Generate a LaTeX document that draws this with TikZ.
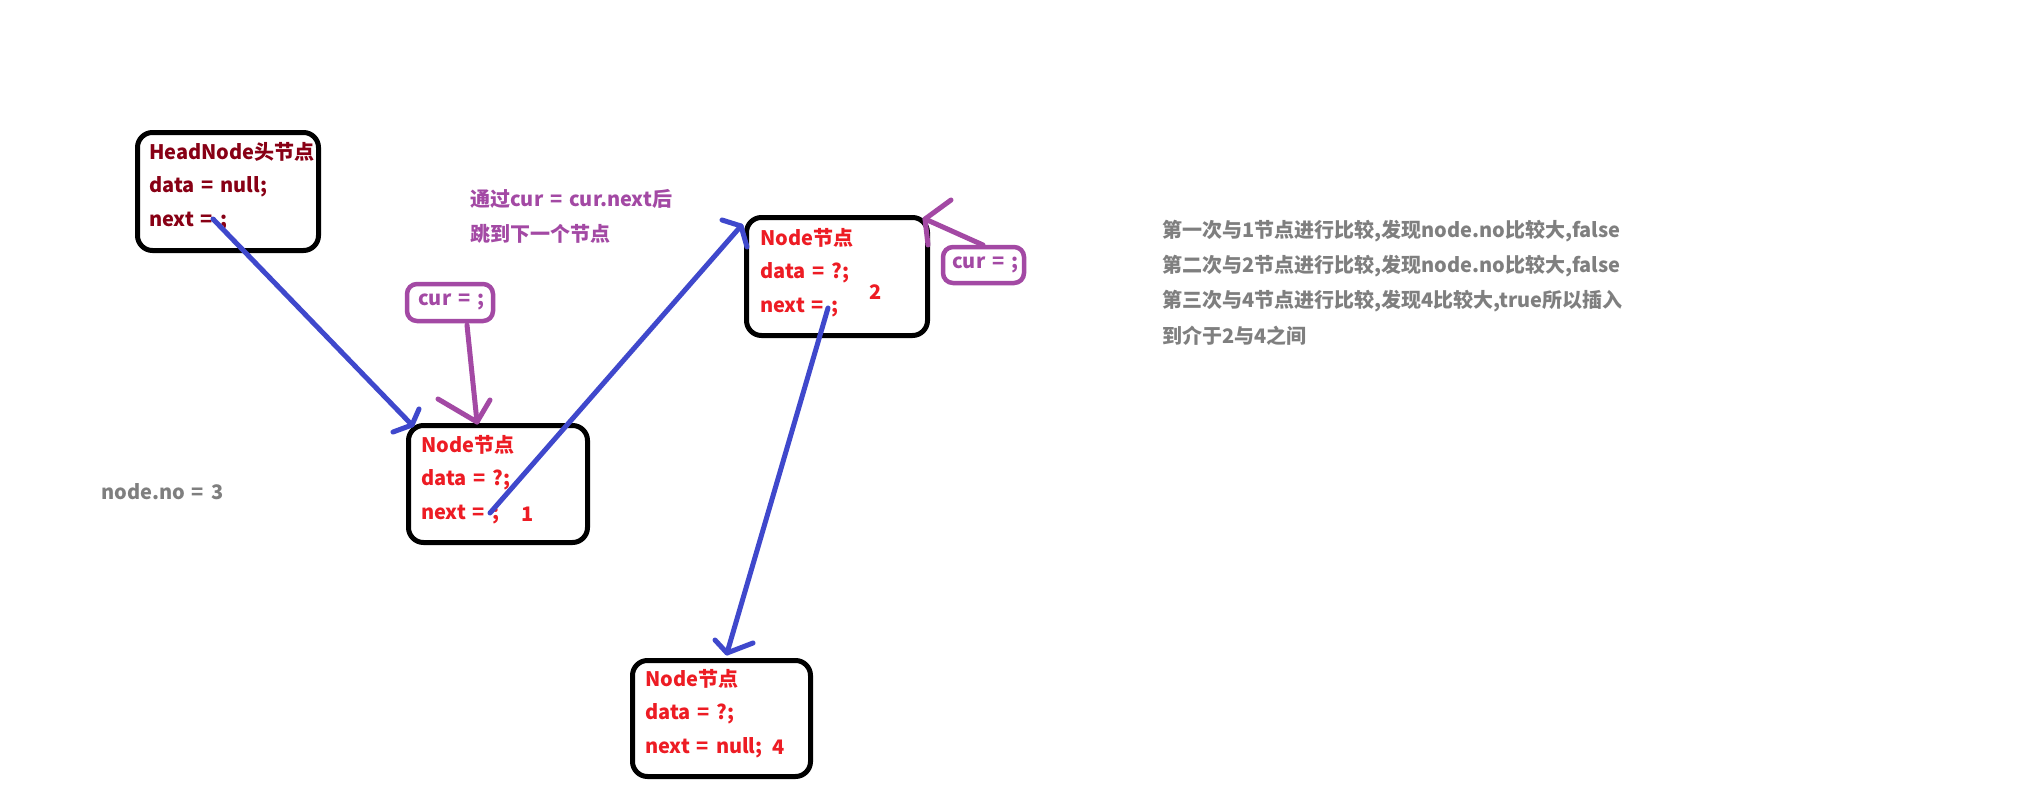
\documentclass[tikz,border=0pt]{standalone}
\usepackage{fontspec}
\setmainfont{Noto Sans CJK SC}[WordSpace=1.5]
\definecolor{headred}{HTML}{880015}
\definecolor{nodered}{HTML}{ED1C24}
\definecolor{linkblue}{HTML}{3F48CC}
\definecolor{curpurple}{HTML}{A349A4}
\definecolor{notegray}{HTML}{7F7F7F}
\begin{document}
\begin{tikzpicture}[x=1pt,y=-1pt,
  nodebox/.style={draw=black, line width=5pt, rounded corners=15pt, inner sep=0pt},
  curbox/.style={draw=curpurple, line width=4.5pt, rounded corners=10pt, inner sep=0pt},
  txt/.style={anchor=west, inner sep=0pt, font=\bfseries\fontsize{20}{24}\selectfont},
  link/.style={draw=linkblue, line width=5pt, line cap=round, line join=round},
  curlink/.style={draw=curpurple, line width=5pt, line cap=round, line join=round}]
\useasboundingbox (0,0) rectangle (2036,784);
\fill[white] (0,0) rectangle (2036,784);

% boxes
\node[nodebox, minimum width=181pt, minimum height=118pt] (head) at (228,191.5) {};
\node[nodebox, minimum width=179pt, minimum height=117pt] (n1) at (498,484) {};
\node[nodebox, minimum width=181pt, minimum height=118pt] (n2) at (837,276.5) {};
\node[nodebox, minimum width=178pt, minimum height=116pt] (n4) at (721.5,718.5) {};
\node[curbox, minimum width=86pt, minimum height=37pt] (c1) at (450,302.5) {};
\node[curbox, minimum width=81pt, minimum height=36pt] (c2) at (983.5,265) {};

% head node text
\node[txt, text=headred] (h1) at (149,152) {HeadNode头节点};
\node[txt, text=headred] (h2) at (149,187) {data = null;};
\node[txt, text=headred] (h3) at (149,222) {next = ;};

% node 1
\node[txt, text=nodered] (a1) at (421,445) {Node节点};
\node[txt, text=nodered] (a2) at (421,480) {data = ?;};
\node[txt, text=nodered] (a3) at (421,515) {next = ;};
\node[txt, text=nodered] (a4) at (521,514) {1};

% node 2
\node[txt, text=nodered] (b1) at (760,238) {Node节点};
\node[txt, text=nodered] (b2) at (760,273) {data = ?;};
\node[txt, text=nodered] (b3) at (760,308) {next = ;};
\node[txt, text=nodered] (b4) at (869,292) {2};

% node 4
\node[txt, text=nodered] (d1) at (645,679) {Node节点};
\node[txt, text=nodered] (d2) at (645,714) {data = ?;};
\node[txt, text=nodered] (d3) at (645,748) {next = null;};
\node[txt, text=nodered] (d4) at (772,747) {4};

% cur labels
\node[txt, text=curpurple] (k1) at (418,302) {cur = ;};
\node[txt, text=curpurple] (k2) at (952,265) {cur = ;};

% notes
\node[txt, text=curpurple] (p1) at (470,199) {通过cur = cur.next后};
\node[txt, text=curpurple] (p2) at (470,234) {跳到下一个节点};
\node[txt, text=notegray] (g0) at (101,492) {node.no = 3};
\node[txt, text=notegray] (g1) at (1162,231) {第一次与1节点进行比较,发现node.no比较大,false};
\node[txt, text=notegray] (g2) at (1162,266) {第二次与2节点进行比较,发现node.no比较大,false};
\node[txt, text=notegray] (g3) at (1162,301) {第三次与4节点进行比较,发现4比较大,true所以插入};
\node[txt, text=notegray] (g4) at (1162,336) {到介于2与4之间};

% connector coordinates
\coordinate (s1) at (213,219);  \coordinate (t1) at (412,425);
\coordinate (s2) at (490,513);  \coordinate (t2) at (741,226);
\coordinate (s3) at (828,308);  \coordinate (t3) at (727,653);
\coordinate (s4) at (467,325);  \coordinate (t4) at (477,422);
\coordinate (s5) at (983,245);  \coordinate (t5) at (925,219);

% blue links
\draw[link] (s1) -- (t1);
\draw[link] (393,432) -- (t1) -- (419,409);
\draw[link] (s2) -- (t2);
\draw[link] (722,220) -- (t2) -- (747,247);
\draw[link] (s3) -- (t3);
\draw[link] (715,640) -- (t3) -- (753,643);

% purple cur pointers
\draw[curlink] (s4) -- (t4);
\draw[curlink] (438,399) -- (t4) -- (490,400);
\draw[curlink] (s5) -- (t5);
\draw[curlink] (951,200) -- (t5) -- (928,245);
\end{tikzpicture}
\end{document}
